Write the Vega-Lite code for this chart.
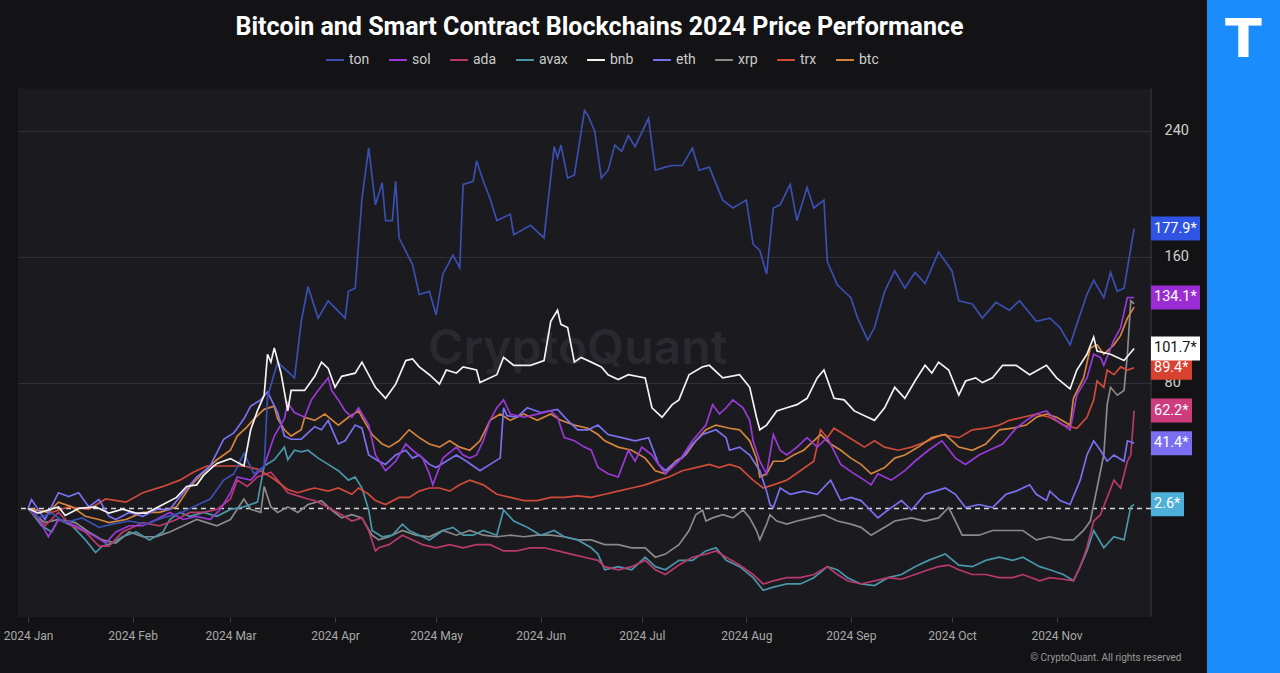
{
"$schema": "https://vega.github.io/schema/vega-lite/v6.json",
"background": "#131316",
"padding": {"left": 3, "top": 0, "right": 0, "bottom": 0},
"spacing": 7,
"columns": 2,
"align": "none",
"config": {"view": {"stroke": null}, "font": "Roboto"},
"datasets": {
"labels": [
{"s":"ton","v":177.9,"lab":"177.9*"},{"s":"sol","v":134.1,"lab":"134.1*"},{"s":"trx","v":89.4,"lab":"89.4*"},{"s":"bnb","v":101.7,"lab":"101.7*"},{"s":"ada","v":62.2,"lab":"62.2*"},{"s":"eth","v":41.4,"lab":"41.4*"},{"s":"avax","v":2.6,"lab":"2.6*"}
],
"prices": [
{"s":"xrp","d":"2024-01-01","v":0},{"s":"xrp","d":"2024-01-02","v":-2.5},{"s":"xrp","d":"2024-01-06","v":-9},{"s":"xrp","d":"2024-01-10","v":-7},{"s":"xrp","d":"2024-01-15","v":-9},{"s":"xrp","d":"2024-01-19","v":-15},{"s":"xrp","d":"2024-01-23","v":-20},{"s":"xrp","d":"2024-01-27","v":-22},{"s":"xrp","d":"2024-01-31","v":-15},{"s":"xrp","d":"2024-02-04","v":-18},{"s":"xrp","d":"2024-02-08","v":-18},{"s":"xrp","d":"2024-02-12","v":-15},{"s":"xrp","d":"2024-02-16","v":-11},{"s":"xrp","d":"2024-02-20","v":-7},{"s":"xrp","d":"2024-02-23","v":-9},{"s":"xrp","d":"2024-02-26","v":-11},{"s":"xrp","d":"2024-03-01","v":-7},{"s":"xrp","d":"2024-03-05","v":6},{"s":"xrp","d":"2024-03-07","v":-0.6},{"s":"xrp","d":"2024-03-10","v":-2.5},{"s":"xrp","d":"2024-03-11","v":14},{"s":"xrp","d":"2024-03-13","v":1},{"s":"xrp","d":"2024-03-15","v":-2.5},{"s":"xrp","d":"2024-03-18","v":1},{"s":"xrp","d":"2024-03-21","v":-2.5},{"s":"xrp","d":"2024-03-24","v":2.5},{"s":"xrp","d":"2024-03-28","v":5},{"s":"xrp","d":"2024-03-31","v":-1},{"s":"xrp","d":"2024-04-03","v":-6},{"s":"xrp","d":"2024-04-06","v":-4},{"s":"xrp","d":"2024-04-09","v":-6},{"s":"xrp","d":"2024-04-12","v":-17},{"s":"xrp","d":"2024-04-14","v":-20},{"s":"xrp","d":"2024-04-17","v":-18},{"s":"xrp","d":"2024-04-21","v":-14},{"s":"xrp","d":"2024-04-25","v":-17},{"s":"xrp","d":"2024-04-29","v":-18},{"s":"xrp","d":"2024-05-03","v":-14},{"s":"xrp","d":"2024-05-07","v":-17},{"s":"xrp","d":"2024-05-11","v":-14},{"s":"xrp","d":"2024-05-15","v":-17},{"s":"xrp","d":"2024-05-19","v":-18},{"s":"xrp","d":"2024-05-23","v":-17},{"s":"xrp","d":"2024-05-27","v":-18},{"s":"xrp","d":"2024-05-31","v":-17},{"s":"xrp","d":"2024-06-04","v":-17},{"s":"xrp","d":"2024-06-08","v":-18},{"s":"xrp","d":"2024-06-12","v":-20},{"s":"xrp","d":"2024-06-16","v":-20},{"s":"xrp","d":"2024-06-20","v":-23},{"s":"xrp","d":"2024-06-24","v":-23},{"s":"xrp","d":"2024-06-28","v":-25},{"s":"xrp","d":"2024-07-02","v":-25},{"s":"xrp","d":"2024-07-05","v":-31},{"s":"xrp","d":"2024-07-08","v":-29},{"s":"xrp","d":"2024-07-12","v":-23},{"s":"xrp","d":"2024-07-15","v":-14},{"s":"xrp","d":"2024-07-17","v":-4},{"s":"xrp","d":"2024-07-19","v":-1},{"s":"xrp","d":"2024-07-20","v":-8},{"s":"xrp","d":"2024-07-22","v":-6},{"s":"xrp","d":"2024-07-25","v":-4},{"s":"xrp","d":"2024-07-28","v":-6},{"s":"xrp","d":"2024-07-31","v":-1},{"s":"xrp","d":"2024-08-02","v":-6},{"s":"xrp","d":"2024-08-04","v":-14},{"s":"xrp","d":"2024-08-05","v":-20},{"s":"xrp","d":"2024-08-07","v":-10},{"s":"xrp","d":"2024-08-08","v":-4},{"s":"xrp","d":"2024-08-10","v":-8},{"s":"xrp","d":"2024-08-13","v":-10},{"s":"xrp","d":"2024-08-16","v":-8},{"s":"xrp","d":"2024-08-20","v":-6},{"s":"xrp","d":"2024-08-24","v":-4},{"s":"xrp","d":"2024-08-28","v":-8},{"s":"xrp","d":"2024-09-01","v":-10},{"s":"xrp","d":"2024-09-04","v":-12},{"s":"xrp","d":"2024-09-07","v":-17},{"s":"xrp","d":"2024-09-11","v":-12},{"s":"xrp","d":"2024-09-14","v":-8},{"s":"xrp","d":"2024-09-19","v":-6},{"s":"xrp","d":"2024-09-23","v":-8},{"s":"xrp","d":"2024-09-27","v":-6},{"s":"xrp","d":"2024-09-30","v":0.6},{"s":"xrp","d":"2024-10-02","v":-8},{"s":"xrp","d":"2024-10-04","v":-17},{"s":"xrp","d":"2024-10-09","v":-17},{"s":"xrp","d":"2024-10-13","v":-14},{"s":"xrp","d":"2024-10-18","v":-14},{"s":"xrp","d":"2024-10-22","v":-14},{"s":"xrp","d":"2024-10-26","v":-20},{"s":"xrp","d":"2024-10-30","v":-18},{"s":"xrp","d":"2024-11-03","v":-20},{"s":"xrp","d":"2024-11-06","v":-20},{"s":"xrp","d":"2024-11-09","v":-14},{"s":"xrp","d":"2024-11-11","v":-8},{"s":"xrp","d":"2024-11-12","v":2.5},{"s":"xrp","d":"2024-11-13","v":13},{"s":"xrp","d":"2024-11-15","v":34},{"s":"xrp","d":"2024-11-16","v":66},{"s":"xrp","d":"2024-11-17","v":77},{"s":"xrp","d":"2024-11-19","v":72},{"s":"xrp","d":"2024-11-21","v":75},{"s":"xrp","d":"2024-11-22","v":98},{"s":"xrp","d":"2024-11-23","v":132},{"s":"xrp","d":"2024-11-24","v":130},

{"s":"avax","d":"2024-01-01","v":0},{"s":"avax","d":"2024-01-02","v":-2.5},{"s":"avax","d":"2024-01-05","v":-11},{"s":"avax","d":"2024-01-08","v":-15},{"s":"avax","d":"2024-01-10","v":-7},{"s":"avax","d":"2024-01-14","v":-11},{"s":"avax","d":"2024-01-18","v":-20},{"s":"avax","d":"2024-01-21","v":-28},{"s":"avax","d":"2024-01-23","v":-24},{"s":"avax","d":"2024-01-26","v":-22},{"s":"avax","d":"2024-01-29","v":-18},{"s":"avax","d":"2024-02-02","v":-15},{"s":"avax","d":"2024-02-06","v":-20},{"s":"avax","d":"2024-02-10","v":-15},{"s":"avax","d":"2024-02-12","v":-7},{"s":"avax","d":"2024-02-15","v":-2.5},{"s":"avax","d":"2024-02-18","v":-5},{"s":"avax","d":"2024-02-22","v":-2.5},{"s":"avax","d":"2024-02-26","v":-5},{"s":"avax","d":"2024-03-01","v":-0.6},{"s":"avax","d":"2024-03-05","v":1},{"s":"avax","d":"2024-03-09","v":4},{"s":"avax","d":"2024-03-11","v":27},{"s":"avax","d":"2024-03-14","v":31},{"s":"avax","d":"2024-03-17","v":39},{"s":"avax","d":"2024-03-18","v":31},{"s":"avax","d":"2024-03-20","v":37},{"s":"avax","d":"2024-03-22","v":36},{"s":"avax","d":"2024-03-24","v":37},{"s":"avax","d":"2024-03-27","v":32},{"s":"avax","d":"2024-03-30","v":28},{"s":"avax","d":"2024-04-02","v":24},{"s":"avax","d":"2024-04-05","v":18},{"s":"avax","d":"2024-04-07","v":20},{"s":"avax","d":"2024-04-09","v":13},{"s":"avax","d":"2024-04-11","v":-1},{"s":"avax","d":"2024-04-12","v":-14},{"s":"avax","d":"2024-04-15","v":-18},{"s":"avax","d":"2024-04-18","v":-17},{"s":"avax","d":"2024-04-21","v":-10},{"s":"avax","d":"2024-04-23","v":-14},{"s":"avax","d":"2024-04-26","v":-17},{"s":"avax","d":"2024-04-29","v":-20},{"s":"avax","d":"2024-05-03","v":-14},{"s":"avax","d":"2024-05-06","v":-12},{"s":"avax","d":"2024-05-09","v":-17},{"s":"avax","d":"2024-05-12","v":-17},{"s":"avax","d":"2024-05-15","v":-14},{"s":"avax","d":"2024-05-19","v":-17},{"s":"avax","d":"2024-05-21","v":-1},{"s":"avax","d":"2024-05-24","v":-8},{"s":"avax","d":"2024-05-28","v":-12},{"s":"avax","d":"2024-06-01","v":-17},{"s":"avax","d":"2024-06-05","v":-14},{"s":"avax","d":"2024-06-08","v":-18},{"s":"avax","d":"2024-06-12","v":-20},{"s":"avax","d":"2024-06-16","v":-25},{"s":"avax","d":"2024-06-18","v":-29},{"s":"avax","d":"2024-06-20","v":-39},{"s":"avax","d":"2024-06-24","v":-37},{"s":"avax","d":"2024-06-28","v":-39},{"s":"avax","d":"2024-07-02","v":-31},{"s":"avax","d":"2024-07-05","v":-37},{"s":"avax","d":"2024-07-08","v":-39},{"s":"avax","d":"2024-07-12","v":-33},{"s":"avax","d":"2024-07-16","v":-33},{"s":"avax","d":"2024-07-20","v":-27},{"s":"avax","d":"2024-07-23","v":-25},{"s":"avax","d":"2024-07-26","v":-33},{"s":"avax","d":"2024-07-30","v":-37},{"s":"avax","d":"2024-08-03","v":-44},{"s":"avax","d":"2024-08-06","v":-52},{"s":"avax","d":"2024-08-09","v":-50},{"s":"avax","d":"2024-08-13","v":-48},{"s":"avax","d":"2024-08-17","v":-48},{"s":"avax","d":"2024-08-21","v":-44},{"s":"avax","d":"2024-08-25","v":-37},{"s":"avax","d":"2024-08-28","v":-39},{"s":"avax","d":"2024-08-31","v":-44},{"s":"avax","d":"2024-09-04","v":-48},{"s":"avax","d":"2024-09-08","v":-49},{"s":"avax","d":"2024-09-12","v":-44},{"s":"avax","d":"2024-09-16","v":-42},{"s":"avax","d":"2024-09-20","v":-37},{"s":"avax","d":"2024-09-24","v":-33},{"s":"avax","d":"2024-09-29","v":-29},{"s":"avax","d":"2024-10-03","v":-36},{"s":"avax","d":"2024-10-07","v":-37},{"s":"avax","d":"2024-10-11","v":-33},{"s":"avax","d":"2024-10-15","v":-31},{"s":"avax","d":"2024-10-19","v":-33},{"s":"avax","d":"2024-10-22","v":-31},{"s":"avax","d":"2024-10-27","v":-37},{"s":"avax","d":"2024-10-30","v":-39},{"s":"avax","d":"2024-11-03","v":-42},{"s":"avax","d":"2024-11-06","v":-46},{"s":"avax","d":"2024-11-08","v":-37},{"s":"avax","d":"2024-11-10","v":-27},{"s":"avax","d":"2024-11-12","v":-14},{"s":"avax","d":"2024-11-15","v":-25},{"s":"avax","d":"2024-11-18","v":-18},{"s":"avax","d":"2024-11-21","v":-20},{"s":"avax","d":"2024-11-23","v":1},{"s":"avax","d":"2024-11-24","v":2.6},

{"s":"ada","d":"2024-01-01","v":0},{"s":"ada","d":"2024-01-02","v":-2.5},{"s":"ada","d":"2024-01-06","v":-11},{"s":"ada","d":"2024-01-10","v":-2.5},{"s":"ada","d":"2024-01-14","v":-11},{"s":"ada","d":"2024-01-18","v":-15},{"s":"ada","d":"2024-01-22","v":-24},{"s":"ada","d":"2024-01-25","v":-24},{"s":"ada","d":"2024-01-29","v":-15},{"s":"ada","d":"2024-02-04","v":-9},{"s":"ada","d":"2024-02-09","v":-11},{"s":"ada","d":"2024-02-14","v":-7},{"s":"ada","d":"2024-02-18","v":-2.5},{"s":"ada","d":"2024-02-22","v":-2.5},{"s":"ada","d":"2024-02-26","v":-0.6},{"s":"ada","d":"2024-03-01","v":6},{"s":"ada","d":"2024-03-03","v":18},{"s":"ada","d":"2024-03-06","v":14},{"s":"ada","d":"2024-03-09","v":20},{"s":"ada","d":"2024-03-13","v":23},{"s":"ada","d":"2024-03-15","v":18},{"s":"ada","d":"2024-03-18","v":10},{"s":"ada","d":"2024-03-21","v":8},{"s":"ada","d":"2024-03-24","v":6},{"s":"ada","d":"2024-03-26","v":5},{"s":"ada","d":"2024-03-30","v":0.6},{"s":"ada","d":"2024-04-03","v":-4},{"s":"ada","d":"2024-04-06","v":-8},{"s":"ada","d":"2024-04-09","v":-6},{"s":"ada","d":"2024-04-11","v":-14},{"s":"ada","d":"2024-04-13","v":-27},{"s":"ada","d":"2024-04-14","v":-25},{"s":"ada","d":"2024-04-17","v":-23},{"s":"ada","d":"2024-04-21","v":-17},{"s":"ada","d":"2024-04-24","v":-20},{"s":"ada","d":"2024-04-27","v":-23},{"s":"ada","d":"2024-05-01","v":-25},{"s":"ada","d":"2024-05-05","v":-23},{"s":"ada","d":"2024-05-09","v":-25},{"s":"ada","d":"2024-05-13","v":-23},{"s":"ada","d":"2024-05-17","v":-23},{"s":"ada","d":"2024-05-21","v":-27},{"s":"ada","d":"2024-05-25","v":-27},{"s":"ada","d":"2024-05-29","v":-25},{"s":"ada","d":"2024-06-02","v":-25},{"s":"ada","d":"2024-06-06","v":-27},{"s":"ada","d":"2024-06-10","v":-29},{"s":"ada","d":"2024-06-14","v":-31},{"s":"ada","d":"2024-06-18","v":-33},{"s":"ada","d":"2024-06-20","v":-37},{"s":"ada","d":"2024-06-24","v":-39},{"s":"ada","d":"2024-06-28","v":-37},{"s":"ada","d":"2024-07-02","v":-33},{"s":"ada","d":"2024-07-05","v":-39},{"s":"ada","d":"2024-07-08","v":-42},{"s":"ada","d":"2024-07-12","v":-36},{"s":"ada","d":"2024-07-16","v":-31},{"s":"ada","d":"2024-07-20","v":-29},{"s":"ada","d":"2024-07-23","v":-27},{"s":"ada","d":"2024-07-26","v":-31},{"s":"ada","d":"2024-07-30","v":-36},{"s":"ada","d":"2024-08-03","v":-42},{"s":"ada","d":"2024-08-06","v":-48},{"s":"ada","d":"2024-08-09","v":-46},{"s":"ada","d":"2024-08-13","v":-44},{"s":"ada","d":"2024-08-17","v":-44},{"s":"ada","d":"2024-08-21","v":-42},{"s":"ada","d":"2024-08-25","v":-37},{"s":"ada","d":"2024-08-28","v":-42},{"s":"ada","d":"2024-08-31","v":-46},{"s":"ada","d":"2024-09-04","v":-48},{"s":"ada","d":"2024-09-08","v":-46},{"s":"ada","d":"2024-09-12","v":-44},{"s":"ada","d":"2024-09-16","v":-45},{"s":"ada","d":"2024-09-20","v":-42},{"s":"ada","d":"2024-09-24","v":-39},{"s":"ada","d":"2024-09-27","v":-37},{"s":"ada","d":"2024-09-30","v":-36},{"s":"ada","d":"2024-10-03","v":-39},{"s":"ada","d":"2024-10-07","v":-42},{"s":"ada","d":"2024-10-11","v":-42},{"s":"ada","d":"2024-10-15","v":-44},{"s":"ada","d":"2024-10-19","v":-44},{"s":"ada","d":"2024-10-22","v":-42},{"s":"ada","d":"2024-10-27","v":-46},{"s":"ada","d":"2024-10-30","v":-44},{"s":"ada","d":"2024-11-03","v":-45},{"s":"ada","d":"2024-11-06","v":-46},{"s":"ada","d":"2024-11-08","v":-37},{"s":"ada","d":"2024-11-10","v":-25},{"s":"ada","d":"2024-11-12","v":-8},{"s":"ada","d":"2024-11-14","v":-4},{"s":"ada","d":"2024-11-16","v":7},{"s":"ada","d":"2024-11-18","v":18},{"s":"ada","d":"2024-11-20","v":13},{"s":"ada","d":"2024-11-22","v":30},{"s":"ada","d":"2024-11-23","v":34},{"s":"ada","d":"2024-11-24","v":62.2},

{"s":"trx","d":"2024-01-01","v":0},{"s":"trx","d":"2024-01-02","v":-0.6},{"s":"trx","d":"2024-01-08","v":-2.5},{"s":"trx","d":"2024-01-13","v":1},{"s":"trx","d":"2024-01-19","v":-0.6},{"s":"trx","d":"2024-01-24","v":6},{"s":"trx","d":"2024-01-30","v":4},{"s":"trx","d":"2024-02-04","v":10},{"s":"trx","d":"2024-02-10","v":14},{"s":"trx","d":"2024-02-15","v":18},{"s":"trx","d":"2024-02-19","v":23},{"s":"trx","d":"2024-02-23","v":27},{"s":"trx","d":"2024-02-28","v":27},{"s":"trx","d":"2024-03-05","v":27},{"s":"trx","d":"2024-03-09","v":25},{"s":"trx","d":"2024-03-13","v":20},{"s":"trx","d":"2024-03-15","v":17},{"s":"trx","d":"2024-03-18","v":12},{"s":"trx","d":"2024-03-21","v":10},{"s":"trx","d":"2024-03-24","v":12},{"s":"trx","d":"2024-03-26","v":13},{"s":"trx","d":"2024-03-30","v":11},{"s":"trx","d":"2024-04-02","v":13},{"s":"trx","d":"2024-04-06","v":9},{"s":"trx","d":"2024-04-08","v":13},{"s":"trx","d":"2024-04-11","v":9},{"s":"trx","d":"2024-04-13","v":5},{"s":"trx","d":"2024-04-16","v":2.5},{"s":"trx","d":"2024-04-20","v":7},{"s":"trx","d":"2024-04-23","v":7},{"s":"trx","d":"2024-04-26","v":11},{"s":"trx","d":"2024-04-29","v":13},{"s":"trx","d":"2024-05-02","v":13},{"s":"trx","d":"2024-05-05","v":11},{"s":"trx","d":"2024-05-08","v":15},{"s":"trx","d":"2024-05-11","v":18},{"s":"trx","d":"2024-05-15","v":15},{"s":"trx","d":"2024-05-19","v":9},{"s":"trx","d":"2024-05-23","v":7},{"s":"trx","d":"2024-05-27","v":5},{"s":"trx","d":"2024-05-31","v":5},{"s":"trx","d":"2024-06-04","v":7},{"s":"trx","d":"2024-06-08","v":7},{"s":"trx","d":"2024-06-12","v":8},{"s":"trx","d":"2024-06-16","v":7},{"s":"trx","d":"2024-06-20","v":9},{"s":"trx","d":"2024-06-24","v":11},{"s":"trx","d":"2024-06-28","v":13},{"s":"trx","d":"2024-07-02","v":15},{"s":"trx","d":"2024-07-06","v":18},{"s":"trx","d":"2024-07-09","v":20},{"s":"trx","d":"2024-07-13","v":24},{"s":"trx","d":"2024-07-17","v":26},{"s":"trx","d":"2024-07-21","v":28},{"s":"trx","d":"2024-07-24","v":26},{"s":"trx","d":"2024-07-27","v":28},{"s":"trx","d":"2024-07-30","v":26},{"s":"trx","d":"2024-08-03","v":18},{"s":"trx","d":"2024-08-06","v":13},{"s":"trx","d":"2024-08-09","v":15},{"s":"trx","d":"2024-08-13","v":18},{"s":"trx","d":"2024-08-17","v":24},{"s":"trx","d":"2024-08-21","v":30},{"s":"trx","d":"2024-08-23","v":50},{"s":"trx","d":"2024-08-25","v":45},{"s":"trx","d":"2024-08-27","v":51},{"s":"trx","d":"2024-08-30","v":47},{"s":"trx","d":"2024-09-02","v":43},{"s":"trx","d":"2024-09-05","v":39},{"s":"trx","d":"2024-09-08","v":43},{"s":"trx","d":"2024-09-11","v":39},{"s":"trx","d":"2024-09-15","v":37},{"s":"trx","d":"2024-09-19","v":39},{"s":"trx","d":"2024-09-24","v":43},{"s":"trx","d":"2024-09-28","v":47},{"s":"trx","d":"2024-10-03","v":45},{"s":"trx","d":"2024-10-07","v":50},{"s":"trx","d":"2024-10-11","v":51},{"s":"trx","d":"2024-10-15","v":53},{"s":"trx","d":"2024-10-18","v":56},{"s":"trx","d":"2024-10-22","v":58},{"s":"trx","d":"2024-10-26","v":60},{"s":"trx","d":"2024-10-30","v":58},{"s":"trx","d":"2024-11-03","v":53},{"s":"trx","d":"2024-11-07","v":51},{"s":"trx","d":"2024-11-10","v":58},{"s":"trx","d":"2024-11-12","v":69},{"s":"trx","d":"2024-11-13","v":81},{"s":"trx","d":"2024-11-15","v":77},{"s":"trx","d":"2024-11-16","v":88},{"s":"trx","d":"2024-11-18","v":85},{"s":"trx","d":"2024-11-20","v":90},{"s":"trx","d":"2024-11-22","v":88},{"s":"trx","d":"2024-11-24","v":89.4},

{"s":"btc","d":"2024-01-01","v":0},{"s":"btc","d":"2024-01-02","v":-0.6},{"s":"btc","d":"2024-01-07","v":-2.5},{"s":"btc","d":"2024-01-10","v":4},{"s":"btc","d":"2024-01-14","v":1},{"s":"btc","d":"2024-01-18","v":-5},{"s":"btc","d":"2024-01-22","v":-7},{"s":"btc","d":"2024-01-25","v":-9},{"s":"btc","d":"2024-01-30","v":-7},{"s":"btc","d":"2024-02-04","v":-2.5},{"s":"btc","d":"2024-02-09","v":-2.5},{"s":"btc","d":"2024-02-14","v":1},{"s":"btc","d":"2024-02-18","v":14},{"s":"btc","d":"2024-02-22","v":23},{"s":"btc","d":"2024-02-26","v":31},{"s":"btc","d":"2024-03-01","v":37},{"s":"btc","d":"2024-03-03","v":46},{"s":"btc","d":"2024-03-06","v":52},{"s":"btc","d":"2024-03-08","v":57},{"s":"btc","d":"2024-03-11","v":63},{"s":"btc","d":"2024-03-14","v":65},{"s":"btc","d":"2024-03-15","v":57},{"s":"btc","d":"2024-03-17","v":50},{"s":"btc","d":"2024-03-19","v":46},{"s":"btc","d":"2024-03-22","v":50},{"s":"btc","d":"2024-03-23","v":58},{"s":"btc","d":"2024-03-26","v":56},{"s":"btc","d":"2024-03-29","v":60},{"s":"btc","d":"2024-04-02","v":53},{"s":"btc","d":"2024-04-05","v":58},{"s":"btc","d":"2024-04-08","v":62},{"s":"btc","d":"2024-04-09","v":58},{"s":"btc","d":"2024-04-12","v":47},{"s":"btc","d":"2024-04-15","v":41},{"s":"btc","d":"2024-04-17","v":39},{"s":"btc","d":"2024-04-20","v":43},{"s":"btc","d":"2024-04-23","v":50},{"s":"btc","d":"2024-04-26","v":45},{"s":"btc","d":"2024-04-29","v":41},{"s":"btc","d":"2024-05-02","v":39},{"s":"btc","d":"2024-05-05","v":43},{"s":"btc","d":"2024-05-08","v":39},{"s":"btc","d":"2024-05-11","v":37},{"s":"btc","d":"2024-05-14","v":43},{"s":"btc","d":"2024-05-17","v":56},{"s":"btc","d":"2024-05-20","v":60},{"s":"btc","d":"2024-05-23","v":56},{"s":"btc","d":"2024-05-27","v":60},{"s":"btc","d":"2024-05-31","v":56},{"s":"btc","d":"2024-06-04","v":60},{"s":"btc","d":"2024-06-07","v":56},{"s":"btc","d":"2024-06-11","v":53},{"s":"btc","d":"2024-06-15","v":51},{"s":"btc","d":"2024-06-18","v":47},{"s":"btc","d":"2024-06-20","v":43},{"s":"btc","d":"2024-06-24","v":39},{"s":"btc","d":"2024-06-28","v":37},{"s":"btc","d":"2024-07-02","v":32},{"s":"btc","d":"2024-07-05","v":24},{"s":"btc","d":"2024-07-08","v":22},{"s":"btc","d":"2024-07-11","v":30},{"s":"btc","d":"2024-07-14","v":34},{"s":"btc","d":"2024-07-17","v":43},{"s":"btc","d":"2024-07-20","v":50},{"s":"btc","d":"2024-07-23","v":53},{"s":"btc","d":"2024-07-27","v":51},{"s":"btc","d":"2024-07-30","v":50},{"s":"btc","d":"2024-08-02","v":43},{"s":"btc","d":"2024-08-04","v":32},{"s":"btc","d":"2024-08-05","v":20},{"s":"btc","d":"2024-08-07","v":22},{"s":"btc","d":"2024-08-09","v":30},{"s":"btc","d":"2024-08-12","v":30},{"s":"btc","d":"2024-08-15","v":34},{"s":"btc","d":"2024-08-18","v":37},{"s":"btc","d":"2024-08-21","v":43},{"s":"btc","d":"2024-08-23","v":47},{"s":"btc","d":"2024-08-26","v":41},{"s":"btc","d":"2024-08-29","v":37},{"s":"btc","d":"2024-09-01","v":32},{"s":"btc","d":"2024-09-04","v":28},{"s":"btc","d":"2024-09-07","v":22},{"s":"btc","d":"2024-09-11","v":26},{"s":"btc","d":"2024-09-14","v":32},{"s":"btc","d":"2024-09-17","v":34},{"s":"btc","d":"2024-09-21","v":39},{"s":"btc","d":"2024-09-25","v":45},{"s":"btc","d":"2024-09-29","v":47},{"s":"btc","d":"2024-10-03","v":39},{"s":"btc","d":"2024-10-07","v":37},{"s":"btc","d":"2024-10-11","v":41},{"s":"btc","d":"2024-10-15","v":50},{"s":"btc","d":"2024-10-19","v":51},{"s":"btc","d":"2024-10-23","v":53},{"s":"btc","d":"2024-10-26","v":58},{"s":"btc","d":"2024-10-29","v":60},{"s":"btc","d":"2024-11-01","v":58},{"s":"btc","d":"2024-11-05","v":53},{"s":"btc","d":"2024-11-06","v":70},{"s":"btc","d":"2024-11-09","v":83},{"s":"btc","d":"2024-11-11","v":102},{"s":"btc","d":"2024-11-13","v":104},{"s":"btc","d":"2024-11-15","v":98},{"s":"btc","d":"2024-11-18","v":104},{"s":"btc","d":"2024-11-20","v":110},{"s":"btc","d":"2024-11-22","v":121},{"s":"btc","d":"2024-11-24","v":128},

{"s":"eth","d":"2024-01-01","v":0},{"s":"eth","d":"2024-01-02","v":5.7},{"s":"eth","d":"2024-01-06","v":-7},{"s":"eth","d":"2024-01-10","v":10},{"s":"eth","d":"2024-01-13","v":7.6},{"s":"eth","d":"2024-01-16","v":10},{"s":"eth","d":"2024-01-19","v":1},{"s":"eth","d":"2024-01-22","v":5.7},{"s":"eth","d":"2024-01-25","v":-5},{"s":"eth","d":"2024-01-27","v":-7},{"s":"eth","d":"2024-01-31","v":-2.5},{"s":"eth","d":"2024-02-04","v":-5},{"s":"eth","d":"2024-02-08","v":-0.6},{"s":"eth","d":"2024-02-12","v":-0.6},{"s":"eth","d":"2024-02-16","v":10},{"s":"eth","d":"2024-02-20","v":20},{"s":"eth","d":"2024-02-24","v":27},{"s":"eth","d":"2024-02-28","v":44},{"s":"eth","d":"2024-03-02","v":48},{"s":"eth","d":"2024-03-05","v":57},{"s":"eth","d":"2024-03-07","v":65},{"s":"eth","d":"2024-03-10","v":69},{"s":"eth","d":"2024-03-12","v":74},{"s":"eth","d":"2024-03-15","v":61},{"s":"eth","d":"2024-03-17","v":46},{"s":"eth","d":"2024-03-19","v":44},{"s":"eth","d":"2024-03-22","v":44},{"s":"eth","d":"2024-03-24","v":48},{"s":"eth","d":"2024-03-26","v":52},{"s":"eth","d":"2024-03-28","v":50},{"s":"eth","d":"2024-03-30","v":56},{"s":"eth","d":"2024-04-02","v":41},{"s":"eth","d":"2024-04-04","v":43},{"s":"eth","d":"2024-04-07","v":53},{"s":"eth","d":"2024-04-09","v":51},{"s":"eth","d":"2024-04-11","v":34},{"s":"eth","d":"2024-04-14","v":30},{"s":"eth","d":"2024-04-16","v":28},{"s":"eth","d":"2024-04-19","v":34},{"s":"eth","d":"2024-04-22","v":37},{"s":"eth","d":"2024-04-24","v":32},{"s":"eth","d":"2024-04-26","v":34},{"s":"eth","d":"2024-04-29","v":28},{"s":"eth","d":"2024-05-01","v":26},{"s":"eth","d":"2024-05-04","v":30},{"s":"eth","d":"2024-05-07","v":34},{"s":"eth","d":"2024-05-10","v":30},{"s":"eth","d":"2024-05-14","v":24},{"s":"eth","d":"2024-05-17","v":28},{"s":"eth","d":"2024-05-20","v":32},{"s":"eth","d":"2024-05-21","v":64},{"s":"eth","d":"2024-05-22","v":59},{"s":"eth","d":"2024-05-25","v":58},{"s":"eth","d":"2024-05-28","v":64},{"s":"eth","d":"2024-06-01","v":61},{"s":"eth","d":"2024-06-06","v":63},{"s":"eth","d":"2024-06-09","v":56},{"s":"eth","d":"2024-06-12","v":50},{"s":"eth","d":"2024-06-15","v":50},{"s":"eth","d":"2024-06-18","v":53},{"s":"eth","d":"2024-06-21","v":47},{"s":"eth","d":"2024-06-25","v":45},{"s":"eth","d":"2024-06-29","v":43},{"s":"eth","d":"2024-07-03","v":45},{"s":"eth","d":"2024-07-06","v":28},{"s":"eth","d":"2024-07-08","v":24},{"s":"eth","d":"2024-07-10","v":28},{"s":"eth","d":"2024-07-13","v":32},{"s":"eth","d":"2024-07-16","v":41},{"s":"eth","d":"2024-07-19","v":47},{"s":"eth","d":"2024-07-23","v":50},{"s":"eth","d":"2024-07-26","v":45},{"s":"eth","d":"2024-07-27","v":37},{"s":"eth","d":"2024-07-30","v":39},{"s":"eth","d":"2024-08-02","v":34},{"s":"eth","d":"2024-08-05","v":24},{"s":"eth","d":"2024-08-07","v":11},{"s":"eth","d":"2024-08-08","v":2.5},{"s":"eth","d":"2024-08-09","v":0.6},{"s":"eth","d":"2024-08-11","v":13},{"s":"eth","d":"2024-08-14","v":9},{"s":"eth","d":"2024-08-18","v":11},{"s":"eth","d":"2024-08-22","v":9},{"s":"eth","d":"2024-08-26","v":18},{"s":"eth","d":"2024-08-29","v":5},{"s":"eth","d":"2024-09-01","v":7},{"s":"eth","d":"2024-09-04","v":5},{"s":"eth","d":"2024-09-06","v":0.6},{"s":"eth","d":"2024-09-09","v":-6},{"s":"eth","d":"2024-09-12","v":-1},{"s":"eth","d":"2024-09-16","v":5},{"s":"eth","d":"2024-09-19","v":-1},{"s":"eth","d":"2024-09-23","v":9},{"s":"eth","d":"2024-09-26","v":11},{"s":"eth","d":"2024-09-29","v":13},{"s":"eth","d":"2024-10-02","v":9},{"s":"eth","d":"2024-10-05","v":0.6},{"s":"eth","d":"2024-10-09","v":2.5},{"s":"eth","d":"2024-10-13","v":0.6},{"s":"eth","d":"2024-10-17","v":9},{"s":"eth","d":"2024-10-20","v":11},{"s":"eth","d":"2024-10-24","v":15},{"s":"eth","d":"2024-10-26","v":9},{"s":"eth","d":"2024-10-29","v":5},{"s":"eth","d":"2024-10-30","v":11},{"s":"eth","d":"2024-11-02","v":5},{"s":"eth","d":"2024-11-05","v":2.5},{"s":"eth","d":"2024-11-08","v":18},{"s":"eth","d":"2024-11-10","v":34},{"s":"eth","d":"2024-11-12","v":43},{"s":"eth","d":"2024-11-14","v":37},{"s":"eth","d":"2024-11-16","v":30},{"s":"eth","d":"2024-11-18","v":34},{"s":"eth","d":"2024-11-21","v":30},{"s":"eth","d":"2024-11-22","v":43},{"s":"eth","d":"2024-11-24","v":41.4},

{"s":"sol","d":"2024-01-01","v":0},{"s":"sol","d":"2024-01-03","v":-2.5},{"s":"sol","d":"2024-01-07","v":-18},{"s":"sol","d":"2024-01-10","v":-7},{"s":"sol","d":"2024-01-15","v":-11},{"s":"sol","d":"2024-01-21","v":-18},{"s":"sol","d":"2024-01-24","v":-22},{"s":"sol","d":"2024-01-27","v":-15},{"s":"sol","d":"2024-01-31","v":-11},{"s":"sol","d":"2024-02-04","v":-11},{"s":"sol","d":"2024-02-08","v":-7},{"s":"sol","d":"2024-02-12","v":-2.5},{"s":"sol","d":"2024-02-16","v":-7},{"s":"sol","d":"2024-02-20","v":-5},{"s":"sol","d":"2024-02-24","v":-7},{"s":"sol","d":"2024-02-27","v":-0.6},{"s":"sol","d":"2024-03-01","v":10},{"s":"sol","d":"2024-03-03","v":20},{"s":"sol","d":"2024-03-07","v":18},{"s":"sol","d":"2024-03-11","v":27},{"s":"sol","d":"2024-03-14","v":46},{"s":"sol","d":"2024-03-17","v":57},{"s":"sol","d":"2024-03-18","v":67},{"s":"sol","d":"2024-03-20","v":61},{"s":"sol","d":"2024-03-23","v":58},{"s":"sol","d":"2024-03-25","v":69},{"s":"sol","d":"2024-03-27","v":75},{"s":"sol","d":"2024-03-30","v":83},{"s":"sol","d":"2024-03-31","v":75},{"s":"sol","d":"2024-04-02","v":69},{"s":"sol","d":"2024-04-04","v":62},{"s":"sol","d":"2024-04-06","v":58},{"s":"sol","d":"2024-04-08","v":64},{"s":"sol","d":"2024-04-11","v":53},{"s":"sol","d":"2024-04-13","v":34},{"s":"sol","d":"2024-04-16","v":24},{"s":"sol","d":"2024-04-17","v":26},{"s":"sol","d":"2024-04-19","v":30},{"s":"sol","d":"2024-04-22","v":41},{"s":"sol","d":"2024-04-24","v":37},{"s":"sol","d":"2024-04-27","v":32},{"s":"sol","d":"2024-04-29","v":22},{"s":"sol","d":"2024-04-30","v":15},{"s":"sol","d":"2024-05-03","v":32},{"s":"sol","d":"2024-05-07","v":39},{"s":"sol","d":"2024-05-09","v":34},{"s":"sol","d":"2024-05-11","v":32},{"s":"sol","d":"2024-05-13","v":34},{"s":"sol","d":"2024-05-15","v":43},{"s":"sol","d":"2024-05-17","v":56},{"s":"sol","d":"2024-05-19","v":64},{"s":"sol","d":"2024-05-21","v":69},{"s":"sol","d":"2024-05-23","v":60},{"s":"sol","d":"2024-05-27","v":58},{"s":"sol","d":"2024-05-31","v":60},{"s":"sol","d":"2024-06-04","v":62},{"s":"sol","d":"2024-06-06","v":58},{"s":"sol","d":"2024-06-08","v":45},{"s":"sol","d":"2024-06-11","v":43},{"s":"sol","d":"2024-06-14","v":39},{"s":"sol","d":"2024-06-16","v":37},{"s":"sol","d":"2024-06-18","v":26},{"s":"sol","d":"2024-06-21","v":22},{"s":"sol","d":"2024-06-24","v":20},{"s":"sol","d":"2024-06-27","v":37},{"s":"sol","d":"2024-06-29","v":30},{"s":"sol","d":"2024-07-01","v":39},{"s":"sol","d":"2024-07-04","v":34},{"s":"sol","d":"2024-07-06","v":28},{"s":"sol","d":"2024-07-08","v":22},{"s":"sol","d":"2024-07-12","v":30},{"s":"sol","d":"2024-07-16","v":43},{"s":"sol","d":"2024-07-20","v":53},{"s":"sol","d":"2024-07-22","v":66},{"s":"sol","d":"2024-07-24","v":60},{"s":"sol","d":"2024-07-26","v":64},{"s":"sol","d":"2024-07-28","v":69},{"s":"sol","d":"2024-07-31","v":64},{"s":"sol","d":"2024-08-02","v":56},{"s":"sol","d":"2024-08-03","v":43},{"s":"sol","d":"2024-08-05","v":30},{"s":"sol","d":"2024-08-07","v":22},{"s":"sol","d":"2024-08-09","v":47},{"s":"sol","d":"2024-08-11","v":37},{"s":"sol","d":"2024-08-13","v":34},{"s":"sol","d":"2024-08-16","v":39},{"s":"sol","d":"2024-08-19","v":45},{"s":"sol","d":"2024-08-22","v":39},{"s":"sol","d":"2024-08-25","v":45},{"s":"sol","d":"2024-08-29","v":28},{"s":"sol","d":"2024-09-02","v":22},{"s":"sol","d":"2024-09-05","v":18},{"s":"sol","d":"2024-09-07","v":15},{"s":"sol","d":"2024-09-09","v":22},{"s":"sol","d":"2024-09-13","v":18},{"s":"sol","d":"2024-09-17","v":24},{"s":"sol","d":"2024-09-20","v":30},{"s":"sol","d":"2024-09-24","v":37},{"s":"sol","d":"2024-09-28","v":43},{"s":"sol","d":"2024-10-02","v":32},{"s":"sol","d":"2024-10-05","v":28},{"s":"sol","d":"2024-10-09","v":34},{"s":"sol","d":"2024-10-12","v":37},{"s":"sol","d":"2024-10-16","v":41},{"s":"sol","d":"2024-10-20","v":51},{"s":"sol","d":"2024-10-23","v":56},{"s":"sol","d":"2024-10-26","v":60},{"s":"sol","d":"2024-10-29","v":62},{"s":"sol","d":"2024-11-01","v":56},{"s":"sol","d":"2024-11-05","v":50},{"s":"sol","d":"2024-11-07","v":72},{"s":"sol","d":"2024-11-10","v":83},{"s":"sol","d":"2024-11-12","v":98},{"s":"sol","d":"2024-11-14","v":96},{"s":"sol","d":"2024-11-15","v":91},{"s":"sol","d":"2024-11-18","v":107},{"s":"sol","d":"2024-11-20","v":115},{"s":"sol","d":"2024-11-22","v":134},{"s":"sol","d":"2024-11-24","v":134.1},

{"s":"ton","d":"2024-01-01","v":0},{"s":"ton","d":"2024-01-04","v":-6},{"s":"ton","d":"2024-01-08","v":-3},{"s":"ton","d":"2024-01-12","v":-9},{"s":"ton","d":"2024-01-17","v":-6},{"s":"ton","d":"2024-01-22","v":-12},{"s":"ton","d":"2024-01-26","v":-10},{"s":"ton","d":"2024-01-31","v":-8},{"s":"ton","d":"2024-02-05","v":-10},{"s":"ton","d":"2024-02-10","v":-6},{"s":"ton","d":"2024-02-15","v":-3},{"s":"ton","d":"2024-02-20","v":2},{"s":"ton","d":"2024-02-24","v":6},{"s":"ton","d":"2024-02-28","v":18},{"s":"ton","d":"2024-03-02","v":22},{"s":"ton","d":"2024-03-05","v":35},{"s":"ton","d":"2024-03-08","v":22},{"s":"ton","d":"2024-03-11","v":27},{"s":"ton","d":"2024-03-12","v":71},{"s":"ton","d":"2024-03-15","v":93},{"s":"ton","d":"2024-03-20","v":83},{"s":"ton","d":"2024-03-22","v":119},{"s":"ton","d":"2024-03-24","v":141},{"s":"ton","d":"2024-03-27","v":121},{"s":"ton","d":"2024-03-30","v":132},{"s":"ton","d":"2024-04-04","v":121},{"s":"ton","d":"2024-04-05","v":138},{"s":"ton","d":"2024-04-07","v":140},{"s":"ton","d":"2024-04-09","v":197},{"s":"ton","d":"2024-04-11","v":229},{"s":"ton","d":"2024-04-13","v":193},{"s":"ton","d":"2024-04-15","v":207},{"s":"ton","d":"2024-04-16","v":183},{"s":"ton","d":"2024-04-18","v":183},{"s":"ton","d":"2024-04-19","v":208},{"s":"ton","d":"2024-04-20","v":172},{"s":"ton","d":"2024-04-24","v":155},{"s":"ton","d":"2024-04-26","v":136},{"s":"ton","d":"2024-04-29","v":138},{"s":"ton","d":"2024-05-01","v":123},{"s":"ton","d":"2024-05-03","v":149},{"s":"ton","d":"2024-05-06","v":161},{"s":"ton","d":"2024-05-08","v":153},{"s":"ton","d":"2024-05-09","v":206},{"s":"ton","d":"2024-05-12","v":208},{"s":"ton","d":"2024-05-13","v":221},{"s":"ton","d":"2024-05-15","v":208},{"s":"ton","d":"2024-05-17","v":197},{"s":"ton","d":"2024-05-19","v":183},{"s":"ton","d":"2024-05-23","v":187},{"s":"ton","d":"2024-05-24","v":174},{"s":"ton","d":"2024-05-29","v":180},{"s":"ton","d":"2024-06-02","v":172},{"s":"ton","d":"2024-06-05","v":230},{"s":"ton","d":"2024-06-06","v":223},{"s":"ton","d":"2024-06-07","v":231},{"s":"ton","d":"2024-06-09","v":210},{"s":"ton","d":"2024-06-11","v":212},{"s":"ton","d":"2024-06-14","v":253},{"s":"ton","d":"2024-06-15","v":250},{"s":"ton","d":"2024-06-17","v":240},{"s":"ton","d":"2024-06-19","v":210},{"s":"ton","d":"2024-06-21","v":215},{"s":"ton","d":"2024-06-23","v":231},{"s":"ton","d":"2024-06-25","v":227},{"s":"ton","d":"2024-06-27","v":237},{"s":"ton","d":"2024-06-29","v":230},{"s":"ton","d":"2024-07-03","v":248},{"s":"ton","d":"2024-07-05","v":215},{"s":"ton","d":"2024-07-08","v":217},{"s":"ton","d":"2024-07-10","v":218},{"s":"ton","d":"2024-07-13","v":218},{"s":"ton","d":"2024-07-16","v":229},{"s":"ton","d":"2024-07-18","v":215},{"s":"ton","d":"2024-07-21","v":217},{"s":"ton","d":"2024-07-25","v":196},{"s":"ton","d":"2024-07-28","v":191},{"s":"ton","d":"2024-08-01","v":196},{"s":"ton","d":"2024-08-03","v":168},{"s":"ton","d":"2024-08-05","v":164},{"s":"ton","d":"2024-08-07","v":149},{"s":"ton","d":"2024-08-09","v":191},{"s":"ton","d":"2024-08-11","v":193},{"s":"ton","d":"2024-08-14","v":206},{"s":"ton","d":"2024-08-16","v":183},{"s":"ton","d":"2024-08-19","v":204},{"s":"ton","d":"2024-08-21","v":191},{"s":"ton","d":"2024-08-24","v":196},{"s":"ton","d":"2024-08-25","v":157},{"s":"ton","d":"2024-08-28","v":142},{"s":"ton","d":"2024-09-01","v":134},{"s":"ton","d":"2024-09-03","v":121},{"s":"ton","d":"2024-09-06","v":107},{"s":"ton","d":"2024-09-08","v":115},{"s":"ton","d":"2024-09-11","v":138},{"s":"ton","d":"2024-09-14","v":151},{"s":"ton","d":"2024-09-17","v":140},{"s":"ton","d":"2024-09-20","v":150},{"s":"ton","d":"2024-09-23","v":143},{"s":"ton","d":"2024-09-27","v":163},{"s":"ton","d":"2024-10-01","v":151},{"s":"ton","d":"2024-10-03","v":132},{"s":"ton","d":"2024-10-07","v":130},{"s":"ton","d":"2024-10-10","v":121},{"s":"ton","d":"2024-10-14","v":131},{"s":"ton","d":"2024-10-18","v":126},{"s":"ton","d":"2024-10-21","v":132},{"s":"ton","d":"2024-10-26","v":119},{"s":"ton","d":"2024-10-30","v":121},{"s":"ton","d":"2024-11-02","v":115},{"s":"ton","d":"2024-11-05","v":104},{"s":"ton","d":"2024-11-07","v":117},{"s":"ton","d":"2024-11-10","v":136},{"s":"ton","d":"2024-11-12","v":145},{"s":"ton","d":"2024-11-15","v":134},{"s":"ton","d":"2024-11-17","v":150},{"s":"ton","d":"2024-11-19","v":138},{"s":"ton","d":"2024-11-21","v":140},{"s":"ton","d":"2024-11-24","v":177.9},

{"s":"bnb","d":"2024-01-01","v":0},{"s":"bnb","d":"2024-01-04","v":-3},{"s":"bnb","d":"2024-01-10","v":1},{"s":"bnb","d":"2024-01-12","v":-4.5},{"s":"bnb","d":"2024-01-16","v":0},{"s":"bnb","d":"2024-01-21","v":1},{"s":"bnb","d":"2024-01-25","v":-3},{"s":"bnb","d":"2024-01-29","v":-0.5},{"s":"bnb","d":"2024-02-02","v":-3},{"s":"bnb","d":"2024-02-05","v":-3},{"s":"bnb","d":"2024-02-10","v":2.5},{"s":"bnb","d":"2024-02-14","v":7},{"s":"bnb","d":"2024-02-17","v":14},{"s":"bnb","d":"2024-02-20","v":15},{"s":"bnb","d":"2024-02-22","v":21},{"s":"bnb","d":"2024-02-24","v":25},{"s":"bnb","d":"2024-02-26","v":28.6},{"s":"bnb","d":"2024-03-01","v":31.7},{"s":"bnb","d":"2024-03-05","v":27},{"s":"bnb","d":"2024-03-07","v":50},{"s":"bnb","d":"2024-03-09","v":62},{"s":"bnb","d":"2024-03-11","v":72},{"s":"bnb","d":"2024-03-12","v":98},{"s":"bnb","d":"2024-03-13","v":93},{"s":"bnb","d":"2024-03-14","v":102},{"s":"bnb","d":"2024-03-16","v":86},{"s":"bnb","d":"2024-03-18","v":62},{"s":"bnb","d":"2024-03-19","v":75},{"s":"bnb","d":"2024-03-23","v":75},{"s":"bnb","d":"2024-03-26","v":84},{"s":"bnb","d":"2024-03-28","v":93},{"s":"bnb","d":"2024-03-30","v":89},{"s":"bnb","d":"2024-04-01","v":77},{"s":"bnb","d":"2024-04-03","v":84},{"s":"bnb","d":"2024-04-07","v":86},{"s":"bnb","d":"2024-04-09","v":93},{"s":"bnb","d":"2024-04-13","v":77},{"s":"bnb","d":"2024-04-16","v":70},{"s":"bnb","d":"2024-04-19","v":79},{"s":"bnb","d":"2024-04-22","v":94},{"s":"bnb","d":"2024-04-24","v":95},{"s":"bnb","d":"2024-04-26","v":90},{"s":"bnb","d":"2024-04-29","v":85},{"s":"bnb","d":"2024-05-02","v":79},{"s":"bnb","d":"2024-05-04","v":88},{"s":"bnb","d":"2024-05-07","v":86},{"s":"bnb","d":"2024-05-09","v":90},{"s":"bnb","d":"2024-05-13","v":88},{"s":"bnb","d":"2024-05-14","v":80},{"s":"bnb","d":"2024-05-19","v":85},{"s":"bnb","d":"2024-05-21","v":96},{"s":"bnb","d":"2024-05-24","v":91},{"s":"bnb","d":"2024-05-29","v":91},{"s":"bnb","d":"2024-06-02","v":94},{"s":"bnb","d":"2024-06-04","v":119},{"s":"bnb","d":"2024-06-06","v":126},{"s":"bnb","d":"2024-06-07","v":117},{"s":"bnb","d":"2024-06-09","v":115},{"s":"bnb","d":"2024-06-11","v":93},{"s":"bnb","d":"2024-06-13","v":96},{"s":"bnb","d":"2024-06-16","v":93},{"s":"bnb","d":"2024-06-19","v":90},{"s":"bnb","d":"2024-06-21","v":85},{"s":"bnb","d":"2024-06-24","v":82},{"s":"bnb","d":"2024-06-27","v":85},{"s":"bnb","d":"2024-07-02","v":83},{"s":"bnb","d":"2024-07-04","v":64},{"s":"bnb","d":"2024-07-06","v":60},{"s":"bnb","d":"2024-07-07","v":58},{"s":"bnb","d":"2024-07-10","v":66},{"s":"bnb","d":"2024-07-12","v":69},{"s":"bnb","d":"2024-07-15","v":85},{"s":"bnb","d":"2024-07-19","v":90},{"s":"bnb","d":"2024-07-21","v":91},{"s":"bnb","d":"2024-07-25","v":83},{"s":"bnb","d":"2024-07-30","v":85},{"s":"bnb","d":"2024-08-02","v":77},{"s":"bnb","d":"2024-08-04","v":58},{"s":"bnb","d":"2024-08-05","v":50},{"s":"bnb","d":"2024-08-07","v":53},{"s":"bnb","d":"2024-08-10","v":62},{"s":"bnb","d":"2024-08-13","v":64},{"s":"bnb","d":"2024-08-16","v":66},{"s":"bnb","d":"2024-08-19","v":70},{"s":"bnb","d":"2024-08-22","v":83},{"s":"bnb","d":"2024-08-24","v":88},{"s":"bnb","d":"2024-08-27","v":70},{"s":"bnb","d":"2024-08-30","v":69},{"s":"bnb","d":"2024-09-02","v":62},{"s":"bnb","d":"2024-09-06","v":58},{"s":"bnb","d":"2024-09-08","v":56},{"s":"bnb","d":"2024-09-11","v":64},{"s":"bnb","d":"2024-09-14","v":77},{"s":"bnb","d":"2024-09-17","v":70},{"s":"bnb","d":"2024-09-20","v":81},{"s":"bnb","d":"2024-09-23","v":91},{"s":"bnb","d":"2024-09-25","v":86},{"s":"bnb","d":"2024-09-27","v":93},{"s":"bnb","d":"2024-09-30","v":88},{"s":"bnb","d":"2024-10-03","v":72},{"s":"bnb","d":"2024-10-05","v":81},{"s":"bnb","d":"2024-10-08","v":83},{"s":"bnb","d":"2024-10-10","v":80},{"s":"bnb","d":"2024-10-13","v":83},{"s":"bnb","d":"2024-10-16","v":91},{"s":"bnb","d":"2024-10-20","v":91},{"s":"bnb","d":"2024-10-24","v":85},{"s":"bnb","d":"2024-10-29","v":91},{"s":"bnb","d":"2024-11-01","v":83},{"s":"bnb","d":"2024-11-05","v":76},{"s":"bnb","d":"2024-11-07","v":88},{"s":"bnb","d":"2024-11-10","v":98},{"s":"bnb","d":"2024-11-12","v":109},{"s":"bnb","d":"2024-11-13","v":100},{"s":"bnb","d":"2024-11-17","v":98},{"s":"bnb","d":"2024-11-21","v":94},{"s":"bnb","d":"2024-11-24","v":101.7}
]
},
"concat": [
{
"width": 1133,
"height": 617,
"view": {"fill": null, "stroke": null},
"title": {"text": "Bitcoin and Smart Contract Blockchains 2024 Price Performance", "font": "Roboto", "fontSize": 25, "fontWeight": "bold", "color": "#ffffff", "anchor": "middle", "frame": "group", "dx": 15, "offset": -40},
"layer": [
{
"data": {"values": [{}]},
"mark": {"type": "rect", "fill": "#c8c8ff", "fillOpacity": 0.04},
"encoding": {
"x": {"datum": {"year": 2023, "month": 12, "date": 29}, "type": "temporal"},
"x2": {"datum": {"year": 2024, "month": 11, "date": 29}},
"y": {"datum": 267, "type": "quantitative"},
"y2": {"datum": -69}
}
},
{
"data": {"values": [{"t": "CryptoQuant"}]},
"mark": {"type": "text", "fontSize": 48, "fontWeight": 600, "color": "#29292f", "font": "Inter", "align": "center", "baseline": "middle"},
"encoding": {
"x": {"datum": {"year": 2024, "month": 6, "date": 12}, "type": "temporal"},
"y": {"datum": 101, "type": "quantitative"},
"text": {"field": "t"}
}
},
{
"data": {"values": [{}]},
"mark": {"type": "rule", "color": "#3b3b42", "strokeWidth": 1},
"encoding": {
"x": {"datum": {"year": 2024, "month": 11, "date": 29}, "type": "temporal"},
"y": {"datum": 267, "type": "quantitative"},
"y2": {"datum": -69}
}
},
{
"data": {"values": [{}]},
"mark": {"type": "rule", "strokeDash": [5, 4], "color": "#d8d8d8", "strokeWidth": 1.5},
"encoding": {"y": {"datum": 0, "type": "quantitative"}}
},
{
"data": {"name": "prices"},
"mark": {"type": "line", "strokeWidth": 1.7},
"encoding": {
"x": {"field": "d", "type": "temporal",
"scale": {"domain": [{"year": 2023, "month": 12, "date": 29}, {"year": 2024, "month": 11, "date": 29}]},
"axis": {"format": "%Y %b", "tickCount": {"interval": "month", "step": 1}, "labelColor": "#a9a9a9", "labelFontSize": 12, "grid": false, "domain": false, "ticks": true, "tickColor": "#3c3c44", "tickSize": 5, "labelPadding": 8, "labelOverlap": false, "labelFlush": false,
"title": "© CryptoQuant. All rights reserved", "titleColor": "#9a9a9a", "titleFontSize": 10, "titleFontWeight": "normal", "titleAnchor": "end", "titleAlign": "right", "titleX": 1163, "titleY": 40, "titleBaseline": "middle"}},
"y": {"field": "v", "type": "quantitative",
"scale": {"domain": [-69, 323.2], "nice": false, "zero": false},
"axis": {"orient": "right", "values": [80, 160, 240], "grid": true, "gridColor": "#2a2a31", "ticks": false, "domain": false, "labelColor": "#d0d0d0", "labelFontSize": 14.5, "labelPadding": 13, "title": null}},
"color": {"field": "s", "type": "nominal",
"scale": {"domain": ["ton", "sol", "ada", "avax", "bnb", "eth", "xrp", "trx", "btc"], "range": ["#3a4fb0", "#9a3ad6", "#b8396b", "#4a96a8", "#f2f2f2", "#7a70f0", "#8a8a8a", "#d04a3a", "#d5843e"]},
"legend": {"orient": "none", "legendX": 307, "legendY": 50, "direction": "horizontal", "title": null, "symbolType": "stroke", "symbolStrokeWidth": 2, "symbolSize": 320, "labelColor": "#cccccc", "labelFontSize": 14, "columnPadding": 15, "labelOffset": 4}}
}
},
{
"data": {"name": "labels"},
"mark": {"type": "rect", "x2Offset": {"expr": "8*length(datum.lab)+1"}, "yOffset": -12, "y2Offset": 12},
"encoding": {
"x": {"datum": {"year": 2024, "month": 11, "date": 29}, "type": "temporal"},
"x2": {"datum": {"year": 2024, "month": 11, "date": 29}},
"y": {"field": "v", "type": "quantitative"},
"y2": {"field": "v"},
"fill": {"field": "s", "type": "nominal", "legend": null,
"scale": {"domain": ["ton", "sol", "trx", "bnb", "ada", "eth", "avax"], "range": ["#2f54e4", "#9b2bd3", "#d8402f", "#ffffff", "#cd3d7d", "#7b6ef0", "#4db0d9"]}}
}
},
{
"data": {"name": "labels"},
"mark": {"type": "text", "align": "left", "dx": 3, "fontSize": 14.5, "baseline": "middle"},
"encoding": {
"x": {"datum": {"year": 2024, "month": 11, "date": 29}, "type": "temporal"},
"y": {"field": "v", "type": "quantitative"},
"text": {"field": "lab"},
"color": {"condition": {"test": "datum.s === 'bnb'", "value": "#111111"}, "value": "#ffffff"}
}
}
]
},
{
"width": 73,
"height": 673,
"view": {"fill": "#1b8cfb", "stroke": null},
"title": {"text": "T", "fontSize": 54, "fontWeight": 900, "color": "#ffffff", "font": "DejaVu Sans", "offset": -68, "anchor": "middle", "frame": "group"},
"data": {"values": [{}]},
"mark": {"type": "point", "opacity": 0}
}
]
}
